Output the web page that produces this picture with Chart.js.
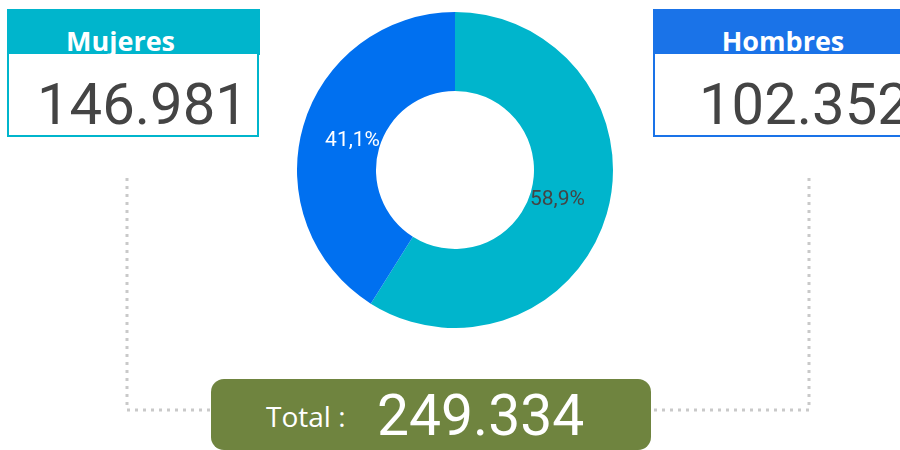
<!DOCTYPE html>
<html>
<head>
<meta charset="utf-8">
<script src="https://cdn.jsdelivr.net/npm/chart.js@4"></script>
<style>
  html, body { margin:0; padding:0; background:#fff; width:900px; height:450px; overflow:hidden; position:relative; }
  .head { position:absolute; box-sizing:border-box; color:#fff; font-family:"Open Sans", sans-serif; font-weight:700; font-size:27px; text-align:center; line-height:45px; padding-top:9px; overflow:hidden; }
  .body { position:absolute; box-sizing:border-box; background:#fff; border:2px solid; border-top:none; font-family:Roboto, sans-serif; font-size:58px; color:#444; line-height:80px; padding-top:10px; overflow:hidden; white-space:nowrap; }
  #total { position:absolute; left:211px; top:379px; width:440px; height:71px; background:#6F843F; border-radius:13px; color:#fff; }
  #total .lbl { position:absolute; left:55px; top:18px; font-family:"Open Sans", sans-serif; font-size:28px; }
  #total .num { position:absolute; left:166px; top:0px; font-family:Roboto, sans-serif; font-size:57px; line-height:74px; }
  #wrap { position:absolute; left:297px; top:12px; width:316px; height:316px; }
  svg { position:absolute; left:0; top:0; }
</style>
</head>
<body>
<svg width="900" height="450">
  <polyline points="127,178 127,410 211,410" fill="none" stroke="#C9C9C9" stroke-width="3" stroke-dasharray="3 5"/>
  <polyline points="809,178 809,410 652,410" fill="none" stroke="#C9C9C9" stroke-width="3" stroke-dasharray="3 5"/>
</svg>

<div class="head" id="hM" style="left:7px; top:9px; width:253px; height:46px; background:#00B5CC; padding-right:26px;"></div>
<div class="body" id="bM" style="left:7px; top:54px; width:252px; height:83px; border-color:#00B5CC; padding-left:28px;"></div>

<div class="head" id="hH" style="left:653px; top:9px; width:260px; height:46px; background:#1A73E8; padding-right:0px;"></div>
<div class="body" id="bH" style="left:653px; top:54px; width:260px; height:83px; border-color:#1A73E8; padding-left:44px;"></div>

<div id="total"><span class="lbl" id="tl"></span><span class="num" id="tn"></span></div>

<div id="wrap"><canvas id="c" width="316" height="316"></canvas></div>

<script>
const categories = ["Mujeres", "Hombres"];
const values = [146981, 102352];
const totalValue = 249334;
const sliceLabels = ["58,9%", "41,1%"];
const colors = ["#00B5CC", "#0070F0"];
const labelColors = ["#444444", "#FFFFFF"];
const totalLabel = "Total :";

const fmt = n => n.toString().replace(/\B(?=(\d{3})+(?!\d))/g, ".");

document.getElementById("hM").textContent = categories[0];
document.getElementById("bM").textContent = fmt(values[0]);
document.getElementById("hH").textContent = categories[1];
document.getElementById("bH").textContent = fmt(values[1]);
document.getElementById("tl").textContent = totalLabel;
document.getElementById("tn").textContent = fmt(totalValue);

const labelPlugin = {
  id: "sliceLabels",
  afterDatasetsDraw(chart) {
    const ctx = chart.ctx;
    const meta = chart.getDatasetMeta(0);
    ctx.save();
    ctx.font = "21px Roboto";
    ctx.textAlign = "center";
    ctx.textBaseline = "middle";
    meta.data.forEach((arc, i) => {
      const p = arc.getProps(["x", "y", "startAngle", "endAngle", "innerRadius", "outerRadius"], true);
      const a = (p.startAngle + p.endAngle) / 2;
      const r = p.innerRadius + (p.outerRadius - p.innerRadius) * 0.35;
      ctx.fillStyle = labelColors[i];
      ctx.fillText(sliceLabels[i], p.x + Math.cos(a) * r, p.y + Math.sin(a) * r);
    });
    ctx.restore();
  }
};

new Chart(document.getElementById("c"), {
  type: "doughnut",
  data: {
    labels: categories,
    datasets: [{ data: values, backgroundColor: colors, borderWidth: 0 }]
  },
  options: {
    responsive: false,
    animation: false,
    cutout: "50%",
    layout: { padding: 0 },
    plugins: { legend: { display: false }, tooltip: { enabled: false } }
  },
  plugins: [labelPlugin]
});
</script>
</body>
</html>
